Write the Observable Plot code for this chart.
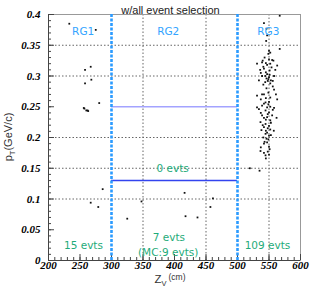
<!DOCTYPE html>
<html><head><meta charset="utf-8">
<script src="https://cdn.jsdelivr.net/npm/d3@7"></script>
<script src="https://cdn.jsdelivr.net/npm/@observablehq/plot@0.6"></script>
<style>body{margin:0;background:#fff}#chart{width:327px;height:291px}</style>
</head><body><div id="chart"></div>
<script>
// ---- data ----
const rg1Z  = [233, 275, 267, 258, 268, 258, 280.5, 256, 260, 262, 257, 263, 286, 267, 279];
const rg1PT = [0.385, 0.375, 0.315, 0.310, 0.294, 0.288, 0.256, 0.248, 0.244, 0.244, 0.247, 0.243, 0.116, 0.094, 0.087];
const rg2Z  = [347.6, 325, 416, 417.5, 436.5, 461, 457];
const rg2PT = [0.096, 0.068, 0.110, 0.072, 0.070, 0.101, 0.087];
const rg3Z  = [567, 542, 547, 545.5, 567, 550, 549, 531, 539, 547, 550, 555, 557, 563, 536, 542, 551, 545, 547, 539,
               550, 553, 544, 548, 556, 552, 549, 541, 537, 554, 531, 539, 542, 549, 552, 561, 563, 546, 558, 531,
               534, 542, 544.5, 547, 552, 544.5, 550, 555, 539, 542, 547, 552, 562, 536.5, 544.5, 550, 542, 552, 557.6, 547,
               544.5, 550, 546, 543, 542, 547, 550, 536.5, 542, 544.5, 550, 519.6, 535, 540, 545, 552, 544, 551, 546, 541,
               556, 537, 545, 550, 539, 549, 556, 537, 548, 545, 553, 540, 548, 538, 545, 553, 541, 549, 537, 551,
               545, 548, 558, 534, 558, 543, 552, 546, 560];
const rg3PT = [0.398, 0.386, 0.366, 0.357, 0.344, 0.341, 0.336, 0.320, 0.322, 0.318, 0.327, 0.326, 0.325, 0.317, 0.310, 0.312, 0.309, 0.306, 0.303, 0.300,
               0.298, 0.293, 0.290, 0.292, 0.292, 0.288, 0.295, 0.315, 0.305, 0.314, 0.268, 0.270, 0.270, 0.273, 0.265, 0.270, 0.262, 0.280, 0.278, 0.249,
               0.246, 0.255, 0.257, 0.249, 0.250, 0.244, 0.241, 0.236, 0.236, 0.232, 0.233, 0.228, 0.232, 0.225, 0.222, 0.219, 0.217, 0.213, 0.211, 0.208,
               0.206, 0.203, 0.198, 0.193, 0.190, 0.192, 0.185, 0.178, 0.175, 0.171, 0.172, 0.150, 0.146, 0.325, 0.321, 0.320, 0.300, 0.302, 0.296, 0.286,
               0.283, 0.262, 0.264, 0.258, 0.252, 0.254, 0.245, 0.240, 0.238, 0.229, 0.224, 0.220, 0.215, 0.212, 0.211, 0.204, 0.200, 0.197, 0.184, 0.181,
               0.166, 0.177, 0.248, 0.293, 0.300, 0.330, 0.338, 0.377, 0.310];

const regionBounds = [300, 500];          // Z cuts
const ptWindow = [0.13, 0.25];            // pT window lines
const regionNames = ["RG1", "RG2", "RG3"];
const regionNameZ = [255, 390, 549];
const regionNamePT = [0.372, 0.372, 0.372];
const countText = ["15 evts", "7 evts", "(MC:9 evts)", "109 evts", "0 evts"];
const countZ  = [255.5, 391, 390, 547.6, 397];
const countPT = [0.025, 0.037, 0.012, 0.025, 0.150];

const xTicks = [200, 250, 300, 350, 400, 450, 500, 550, 600];
const xTickLabels = ["200", "250", "300", "350", "400", "450", "500", "550", "600"];
const yTicks = [0, 0.05, 0.1, 0.15, 0.2, 0.25, 0.3, 0.35, 0.4];
const yTickLabels = ["0", "0.05", "0.1", "0.15", "0.2", "0.25", "0.3", "0.35", "0.4"];
const xGrid = [350, 450, 550];
const yGrid = [0.1, 0.15, 0.2, 0.3, 0.35];
const xMinor = d3.range(200, 601, 10);
const yMinor = d3.range(0, 41, 1).map(d => d / 100);
const titleText = "w/all event selection";

// ---- build ----
const pts = [
  ...rg1Z.map((z, i) => ({z, pt: rg1PT[i]})),
  ...rg2Z.map((z, i) => ({z, pt: rg2PT[i]})),
  ...rg3Z.map((z, i) => ({z, pt: rg3PT[i]}))
];
const names = regionNames.map((t, i) => ({t, z: regionNameZ[i], pt: regionNamePT[i]}));
const counts = countText.map((t, i) => ({t, z: countZ[i], pt: countPT[i]}));
const green = "#1fab7a", lblue = "#33a4ff";
const tickFont = {fontFamily: "Liberation Serif", fontStyle: "italic", fontWeight: "bold", fontSize: 11};
const sans = "DejaVu Sans";

const plot = Plot.plot({
  width: 327, height: 291,
  marginLeft: 48, marginRight: 27, marginTop: 14, marginBottom: 31,
  x: {domain: [200, 600], label: null},
  y: {domain: [0, 0.4], label: null},
  marks: [
    Plot.gridX(xGrid, {stroke: "#666", strokeOpacity: 1, strokeDasharray: "1.5,2"}),
    Plot.gridY(yGrid, {stroke: "#666", strokeOpacity: 1, strokeDasharray: "1.5,2"}),
    Plot.frame({stroke: "#999"}),
    Plot.axisX({ticks: xMinor, tickSize: -3, tickFormat: () => "", label: null, stroke: "#444"}),
    Plot.axisX({ticks: xTicks, tickSize: -6, tickFormat: () => "", label: null, stroke: "#444"}),
    Plot.axisY({ticks: yMinor, tickSize: -3, tickFormat: () => "", label: null, stroke: "#444"}),
    Plot.axisY({ticks: yTicks, tickSize: -6, tickFormat: () => "", label: null, stroke: "#444"}),
    Plot.text(xTicks, {x: d => d, frameAnchor: "bottom", lineAnchor: "top", dy: 1, text: (d, i) => xTickLabels[i], fill: "#000", ...tickFont}),
    Plot.text(yTicks, {y: d => d, frameAnchor: "left", textAnchor: "end", dx: -8, text: (d, i) => yTickLabels[i], fill: "#000", ...tickFont}),
    Plot.ruleX([200], {stroke: "#444"}),
    Plot.ruleY([0], {stroke: "#444"}),
    Plot.ruleY([ptWindow[1]], {x1: regionBounds[0], x2: regionBounds[1], stroke: "#a3a3ff", strokeWidth: 1.5}),
    Plot.ruleY([ptWindow[0]], {x1: regionBounds[0], x2: regionBounds[1], stroke: "#3344ee", strokeWidth: 1.5}),
    Plot.ruleX(regionBounds, {stroke: "#2b9bff", strokeWidth: 2.6, strokeDasharray: "3,1.5"}),
    Plot.dot(pts, {x: "z", y: "pt", symbol: "square", r: 1, fill: "#111", stroke: null}),
    Plot.text(names, {x: "z", y: "pt", text: "t", fill: lblue, fontSize: 10.5, fontFamily: sans}),
    Plot.text(counts, {x: "z", y: "pt", text: "t", fill: green, fontSize: 10.5, fontFamily: sans}),
    Plot.text([titleText], {frameAnchor: "top", dy: -8, dx: -4, text: d => d, fill: "#222", fontSize: 11, fontFamily: "Liberation Sans"})
  ]
});
document.getElementById("chart").appendChild(plot);

const svg = d3.select(plot);
// axis titles with sub-scripts
const yt = svg.append("text")
  .attr("transform", "translate(12,137) rotate(-90)")
  .attr("text-anchor", "middle")
  .attr("font-family", "Liberation Sans").attr("font-size", 11).attr("fill", "#333");
yt.append("tspan").text("p");
yt.append("tspan").attr("dy", 3).attr("font-size", 7.5).text("T");
yt.append("tspan").attr("dy", -3).text("(GeV/c)");

const xt = svg.append("text")
  .attr("x", 170).attr("y", 283)
  .attr("font-family", "Liberation Sans").attr("font-size", 11.5).attr("fill", "#333");
xt.append("tspan").text("Z");
xt.append("tspan").attr("dy", 3).attr("font-size", 7.5).text("V");
xt.append("tspan").attr("dy", -6).attr("dx", 2).attr("font-size", 8.5).text("(cm)");
</script>
</body></html>
